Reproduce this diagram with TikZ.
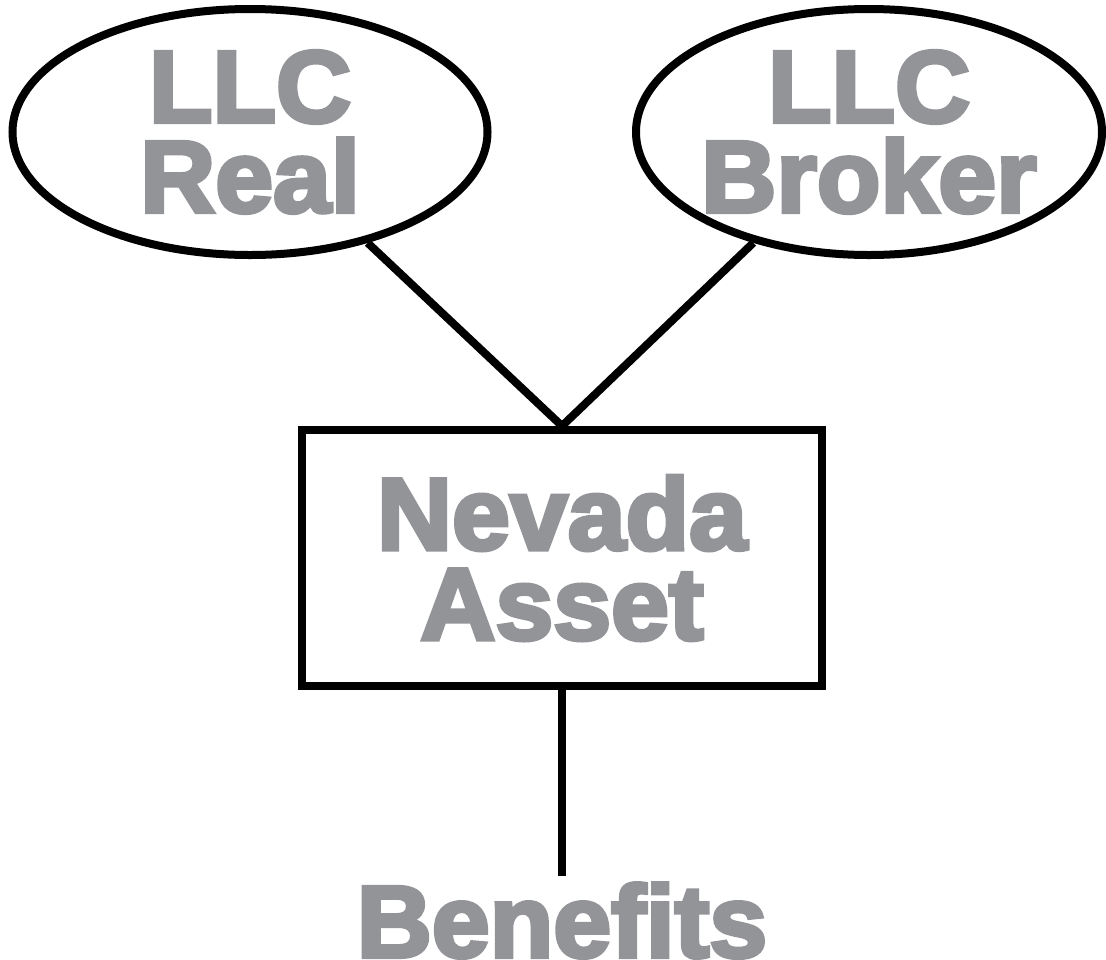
\documentclass[tikz,border=0pt]{standalone}
\usepackage{fontspec}
\usepackage{tikz}
\usetikzlibrary{shapes.geometric}
\newfontfamily\heavyfont{Liberation Sans}[BoldFeatures={FakeBold=4,FakeStretch=1.02}]
\definecolor{labelgray}{RGB}{147,148,152}

\begin{document}
\begin{tikzpicture}[x=1pt, y=-1pt, line width=8pt,
    rotulo/.style={text=labelgray, font=\heavyfont\bfseries\fontsize{102}{90}\selectfont, align=center, inner sep=0pt},
    llc/.style={ellipse, draw, rotulo, inner xsep=-20pt, minimum height=246pt}]
      \useasboundingbox (0,0) rectangle (1106,959);
      % LLC Real
      \node[llc, minimum width=475pt] (real) at (250,132) {LLC\\Real};
      % LLC Broker
      \node[llc, minimum width=466pt] (broker) at (869,132) {LLC\\Broker};
      % Nevada Asset
      \node[rectangle, draw, minimum width=520pt, minimum height=256pt, rotulo] (nevada) at (562,558) {Nevada\\Asset};
      % Benefits
      \node[rotulo, anchor=base] (benefits) at (562,957) {Benefits};
      % Ligacoes
      \draw (real) -- (nevada.north);
      \draw (broker) -- (nevada.north);
      \draw[shorten >=3pt] (nevada.south) -- (benefits.north);
    \end{tikzpicture}
\end{document}
